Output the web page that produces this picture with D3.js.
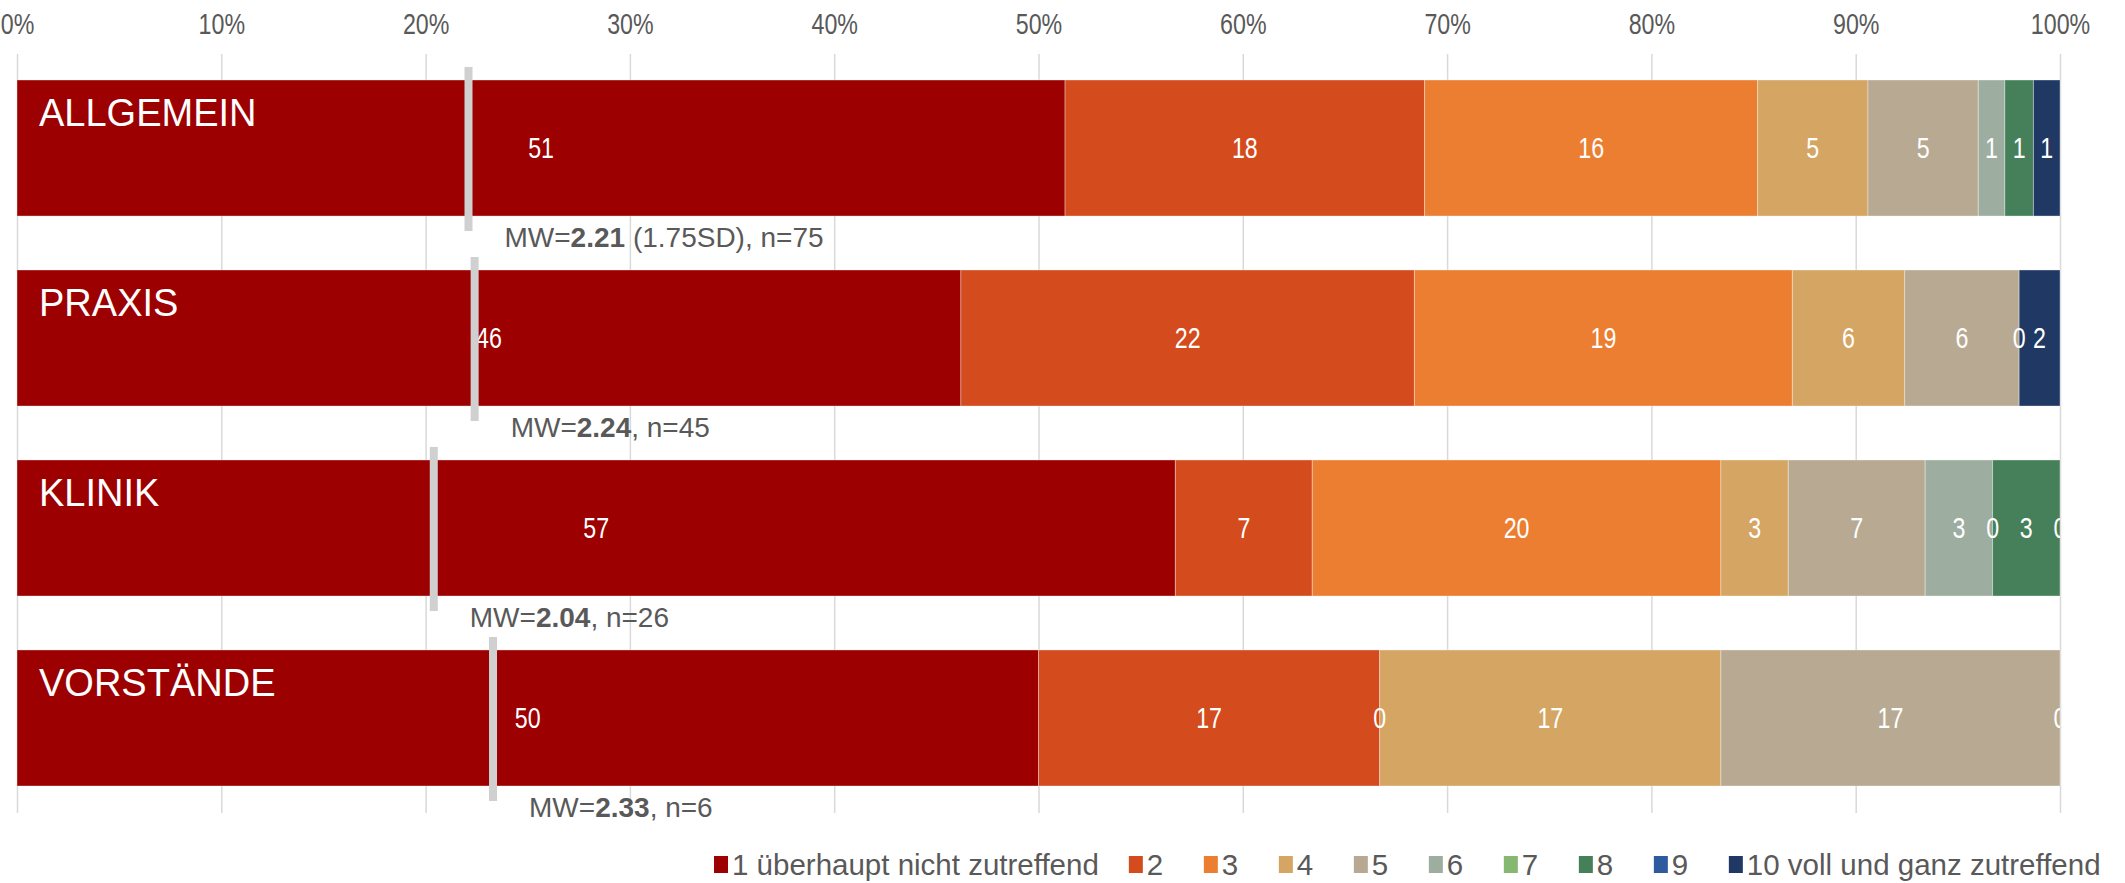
<!DOCTYPE html>
<html>
<head>
<meta charset="utf-8">
<script src="https://cdn.jsdelivr.net/npm/d3@7"></script>
<style>
  body { margin: 0; background: #fff; }
  svg { display: block; }
</style>
</head>
<body>
<div id="chart"></div>
<script>
'use strict';

// groups (rows) and answer levels (series)
const groups = ['ALLGEMEIN', 'PRAXIS', 'KLINIK', 'VORSTÄNDE'];
const levels = ['1 überhaupt nicht zutreffend', '2', '3', '4', '5', '6', '7', '8', '9', '10 voll und ganz zutreffend'];
const levelColors = ['#9c0000', '#d44b1d', '#ec7e31', '#d5a563', '#b8aa92', '#9dada0', '#86b872', '#45805a', '#2e5a9e', '#203864'];

// percent per level, null = no data label
const sharesAllgemein = [51.3, 17.6, 16.3, 5.4, 5.4, 1.3, null, 1.4, null, 1.3];
const sharesPraxis = [46.2, 22.2, 18.5, 5.5, 5.6, 0, null, null, null, 2.0];
const sharesKlinik = [56.7, 6.7, 20.0, 3.3, 6.7, 3.3, 0, 3.3, null, 0];
const sharesVorstaende = [50.0, 16.7, 0, 16.7, 16.6, null, null, null, null, 0];

// mean (MW), standard deviation and n per group
const means = [2.21, 2.24, 2.04, 2.33];
const sds = [1.75, null, null, null];
const counts = [75, 45, 26, 6];

const ticks = [0, 10, 20, 30, 40, 50, 60, 70, 80, 90, 100];

const width = 2125, height = 883;
const font = '"Liberation Sans", Arial, sans-serif';
const grey = '#595959';
const squeeze = 'scale(0.8,1)'; // chart texts are narrow (Calibri-like)

const rows = groups.map((g, i) => ({
    group: g,
    values: [sharesAllgemein, sharesPraxis, sharesKlinik, sharesVorstaende][i],
    mean: means[i],
    sd: sds[i],
    n: counts[i]
}));

const svg = d3.select('#chart')
    .append('svg')
    .attr('width', width)
    .attr('height', height)
    .style('font-family', font);

const x = d3.scaleLinear().domain([0, 100]).range([17, 2060]);
const y = d3.scaleBand().domain(groups).range([80, 786]).paddingInner(0.284).paddingOuter(0);

// grid + top labels
const gridTop = 54, gridBottom = 813;
const axis = svg.append('g')
    .attr('transform', `translate(0,${gridTop})`)
    .call(d3.axisTop(x).tickValues(ticks).tickFormat(d => d + '%')
        .tickSize(-(gridBottom - gridTop)).tickPadding(20));
axis.select('.domain').remove();
axis.selectAll('.tick line').attr('stroke', '#d9d9d9').attr('stroke-width', 1.5);
axis.selectAll('.tick text')
    .attr('fill', grey)
    .attr('transform', squeeze)
    .style('font-family', font)
    .style('font-size', '29px');

// stacked segments
const stack = d3.stack()
    .keys(d3.range(levels.length))
    .value((d, k) => d.values[k] ?? 0);
const series = stack(rows);

svg.append('defs').append('clipPath').attr('id', 'plotClip')
    .append('rect').attr('x', 0).attr('y', 0).attr('width', x(100)).attr('height', height);

const layers = svg.append('g')
    .selectAll('g')
    .data(series)
    .join('g')
    .attr('fill', d => levelColors[d.key]);

layers.selectAll('rect')
    .data(d => d)
    .join('rect')
    .attr('x', d => x(d[0]))
    .attr('y', d => y(d.data.group))
    .attr('width', d => x(d[1]) - x(d[0]))
    .attr('height', y.bandwidth())
    .attr('stroke', 'rgba(255,255,255,0.35)')
    .attr('stroke-width', 1);

// data labels
const labels = [];
series.forEach(s => s.forEach(d => {
    const v = d.data.values[s.key];
    if (v !== null) labels.push({ x: (d[0] + d[1]) / 2, group: d.data.group, v: v });
}));

svg.append('g')
    .attr('clip-path', 'url(#plotClip)')
    .selectAll('text')
    .data(labels)
    .join('text')
    .attr('transform', d => `translate(${x(d.x)},${y(d.group) + y.bandwidth() / 2}) ${squeeze}`)
    .attr('dy', '0.35em')
    .attr('text-anchor', 'middle')
    .attr('fill', '#fff')
    .style('font-size', '29px')
    .text(d => Math.round(d.v));

// group names inside bars
svg.append('g')
    .selectAll('text')
    .data(rows)
    .join('text')
    .attr('x', 39)
    .attr('y', d => y(d.group) + 46)
    .attr('fill', '#fff')
    .style('font-size', '38px')
    .text(d => d.group);

// mean markers
svg.append('g')
    .selectAll('rect')
    .data(rows)
    .join('rect')
    .attr('x', d => x(d.mean * 10) - 4)
    .attr('y', d => y(d.group) - 13)
    .attr('width', 8)
    .attr('height', y.bandwidth() + 28)
    .attr('fill', '#d0d0d0');

// MW annotations
const notes = svg.append('g')
    .selectAll('text')
    .data(rows)
    .join('text')
    .attr('x', d => x(d.mean * 10) + 36)
    .attr('y', d => y(d.group) + y.bandwidth() + 31)
    .attr('fill', grey)
    .style('font-size', '28px');
notes.append('tspan').text('MW=');
notes.append('tspan').attr('font-weight', 'bold').text(d => d.mean.toFixed(2));
notes.append('tspan').text(d => (d.sd !== null ? ` (${d.sd.toFixed(2)}SD)` : '') + ', n=' + d.n);

// legend
const legend = svg.append('g').attr('transform', 'translate(714,865)');
let lx = 0;
levels.forEach((name, i) => {
    const item = legend.append('g').attr('transform', `translate(${lx},0)`);
    item.append('rect')
        .attr('x', 0).attr('y', -9)
        .attr('width', 14).attr('height', 17)
        .attr('fill', levelColors[i]);
    const t = item.append('text')
        .attr('x', 18)
        .attr('dy', '0.35em')
        .attr('fill', grey)
        .style('font-size', '29.5px')
        .text(name);
    lx += Math.max(18 + t.node().getComputedTextLength() + 30, 75);
});
</script>
</body>
</html>
